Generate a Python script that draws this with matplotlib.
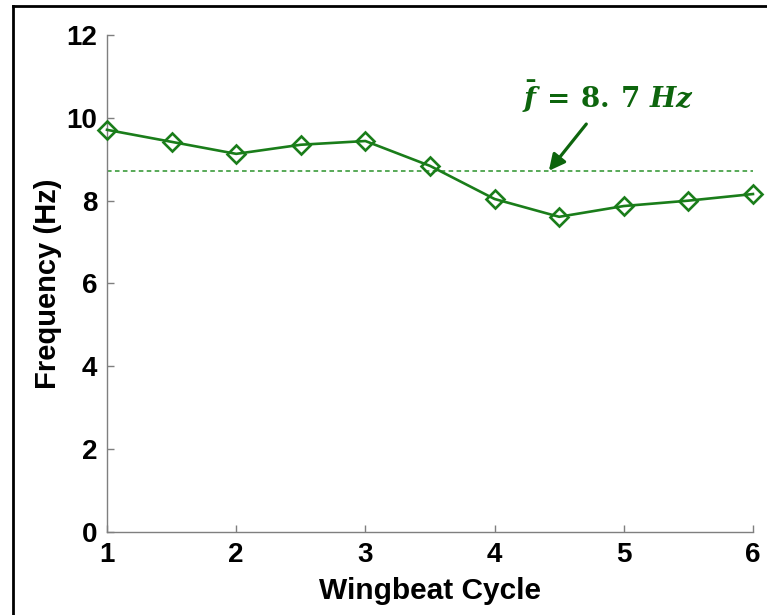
import matplotlib
matplotlib.use("Agg")
import matplotlib.pyplot as plt
from matplotlib.lines import Line2D

# wingbeat cycle vs. frequency
cycle = [1, 1.5, 2, 2.5, 3, 3.5, 4, 4.5, 5, 5.5, 6]
freq = [9.71, 9.42, 9.13, 9.35, 9.44, 8.84, 8.04, 7.61, 7.87, 8.00, 8.16]
mean_freq = 8.72

xticks = [1, 2, 3, 4, 5, 6]
yticks = [0, 2, 4, 6, 8, 10, 12]

plt.rcParams['font.family'] = ['Liberation Sans', 'DejaVu Sans']
plt.rcParams['font.weight'] = 'bold'
plt.rcParams['mathtext.fontset'] = 'custom'
plt.rcParams['mathtext.rm'] = 'DejaVu Serif:bold'
plt.rcParams['mathtext.it'] = 'DejaVu Serif:bold:italic'

line_green = '#1a7d1a'
dash_green = '#2a922a'
text_green = '#0d650d'
axis_gray = '#7f7f7f'

fig = plt.figure(figsize=(7.67, 6.15), dpi=100)
ax = fig.add_axes([0.1395, 0.135, 0.8422, 0.8081])

ax.plot(cycle, freq, color=line_green, lw=1.9, marker='D', ms=9,
        mfc='none', mec=line_green, mew=1.9, clip_on=False, zorder=3)
ax.axhline(mean_freq, color=dash_green, lw=1.1, ls=(0, (3, 2.2)), zorder=2)

ax.set_xlim(1, 6)
ax.set_ylim(0, 12)
ax.set_xticks(xticks)
ax.set_yticks(yticks)
ax.tick_params(direction='in', length=5, width=1, color=axis_gray,
               labelsize=20, pad=7)
for lab in ax.get_xticklabels() + ax.get_yticklabels():
    lab.set_fontweight('bold')
for s in ['top', 'right']:
    ax.spines[s].set_visible(False)
for s in ['left', 'bottom']:
    ax.spines[s].set_color(axis_gray)
    ax.spines[s].set_linewidth(1)

ax.set_xlabel('Wingbeat Cycle', fontsize=21.5, fontweight='bold', labelpad=7)
ax.set_ylabel('Frequency (Hz)', fontsize=21, fontweight='bold', labelpad=3)

# mean annotation
ax.text(4.88, 10.5, r'$\bar{f}\,=\,8.\,7\ Hz$', color=text_green,
        fontsize=20, ha='center', va='center')
ax.annotate('', xy=(4.42, mean_freq), xytext=(4.71, 9.85),
            arrowprops=dict(arrowstyle='-|>', color=text_green, lw=2.3,
                            mutation_scale=24, shrinkA=0, shrinkB=0))

# frame around the figure (top and left edges visible)
fig.add_artist(Line2D([13 / 767, 13 / 767], [0, 1 - 6 / 615], color='black',
                      lw=2, transform=fig.transFigure))
fig.add_artist(Line2D([13 / 767, 1], [1 - 6 / 615, 1 - 6 / 615], color='black',
                      lw=2, transform=fig.transFigure))

fig.savefig('out.png', dpi=100)
